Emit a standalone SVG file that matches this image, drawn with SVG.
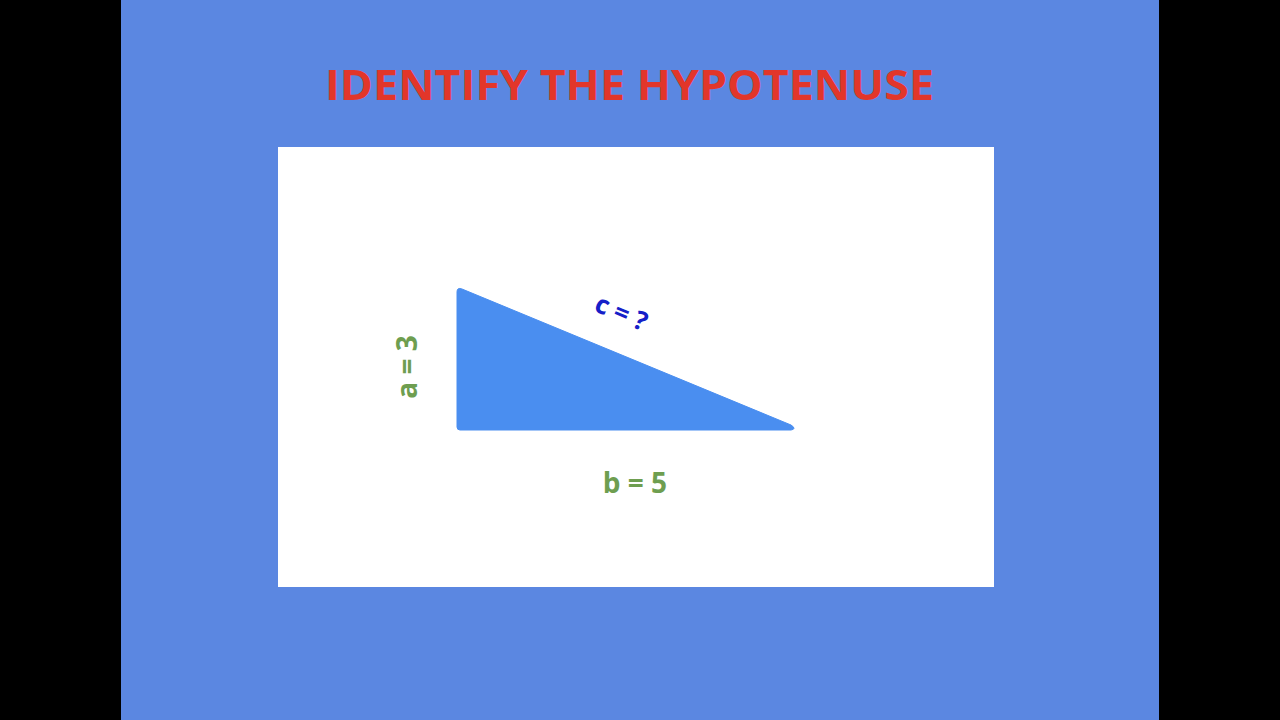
<svg xmlns="http://www.w3.org/2000/svg" width="1280" height="720" viewBox="0 0 1280 720">
<style>
.lbl{font-family:"Open Sans","Liberation Sans",sans-serif;font-weight:bold;text-anchor:middle}
.green{fill:#6E9E50}
</style>
<rect width="1280" height="720" fill="#000"/>
<rect x="121" y="0" width="1038" height="720" fill="#5B87E1"/>
<text x="629.5" y="100" class="lbl" font-size="42" fill="#E2362A" textLength="609" lengthAdjust="spacingAndGlyphs">IDENTIFY THE HYPOTENUSE</text>
<rect x="278" y="147" width="716" height="440" fill="#fff"/>
<g id="triangle">
<path d="M457 292 Q457 287 462 289 L791 425 Q797 429 791 430 L460 430 Q457 430 457 427 Z" fill="#4A8EF0" stroke="#4A8EF0" stroke-width="1" stroke-linejoin="round"/>
</g>
<g id="label-c">
<text class="lbl" font-size="26" fill="#1520C8" transform="translate(618,321) rotate(22.6)">c = ?</text>
</g>
<g id="label-a">
<text class="lbl green" font-size="28" transform="translate(417,367) rotate(-90)">a = 3</text>
</g>
<g id="label-b">
<text class="lbl green" font-size="28" x="635" y="493">b = 5</text>
</g>
</svg>
